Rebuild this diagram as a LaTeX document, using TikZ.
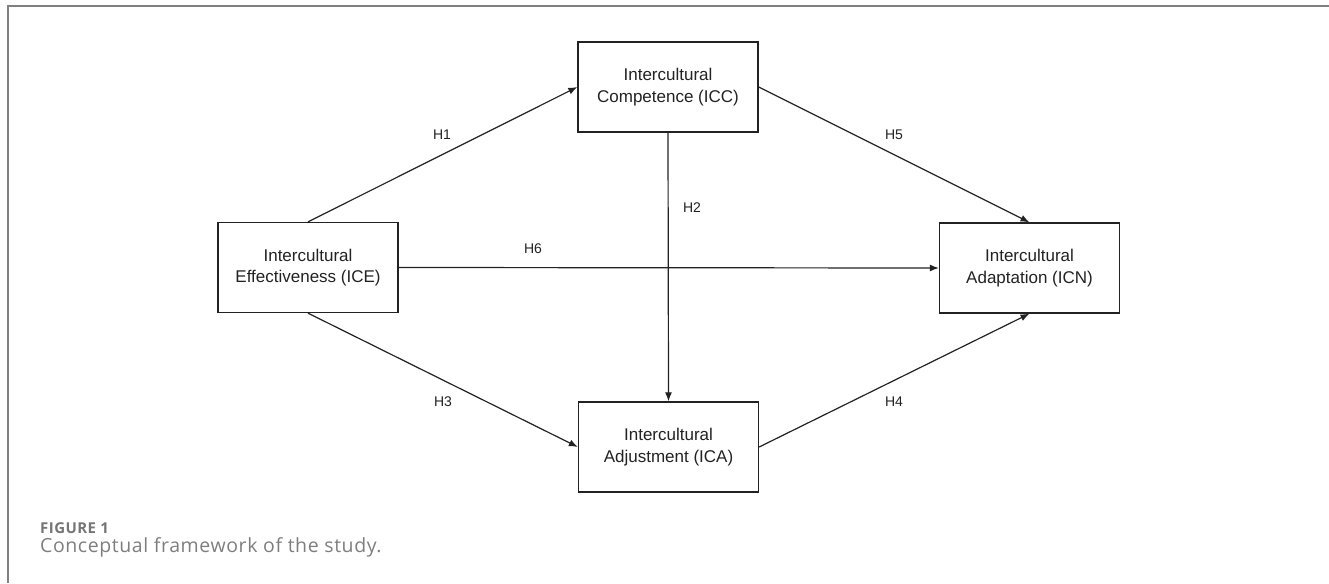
\documentclass[tikz,border=0pt]{standalone}
\usepackage{fontspec}
\setmainfont{Liberation Sans}
\newfontfamily\capfontwide[LetterSpace=3]{Open Sans}
\newfontfamily\figfontwide[LetterSpace=3]{Open Sans}
\usetikzlibrary{arrows.meta}
\definecolor{framegray}{HTML}{808080}
\definecolor{capgray}{HTML}{757575}
\definecolor{capgraylight}{HTML}{7E7E7E}
\definecolor{inkdark}{HTML}{222222}
\begin{document}
\begin{tikzpicture}[x=1pt,y=-1pt,
  box/.style={draw=inkdark, line width=1.3pt, minimum width=180pt, minimum height=90pt,
    align=center, inner sep=0pt, text=inkdark, font=\fontsize{17}{21.7}\selectfont},
  conn/.style={draw=inkdark, line width=1.2pt, -{Latex[length=9pt,width=7pt]}},
  hlab/.style={font=\fontsize{14}{16}\selectfont, text=inkdark, inner sep=0pt}]
\useasboundingbox (0,0) rectangle (1329,583);
\draw[framegray, line width=1.5pt] (8,583) -- (8,6) -- (1329,6);

\node[box] (ice) at (308,267.5) {Intercultural\\Effectiveness (ICE)};
\node[box] (icc) at (668,87) {Intercultural\\Competence (ICC)};
\node[box] (icn) at (1029.5,268) {Intercultural\\Adaptation (ICN)};
\node[box] (ica) at (668.5,447) {Intercultural\\Adjustment (ICA)};

\draw[conn] (ice.north) -- (icc.west);
\draw[conn] (ice.east) -- (icn.west);
\draw[conn] (ice.south) -- (ica.west);
\draw[conn] (icc.south) -- (ica.north);
\draw[conn] (icc.east) -- (icn.north);
\draw[conn] (ica.east) -- (icn.south);

\node[hlab] (h1) at (442,135) {H1};
\node[hlab] (h5) at (894,135) {H5};
\node[hlab] (h2) at (692,208) {H2};
\node[hlab] (h6) at (533,249) {H6};
\node[hlab] (h3) at (443,402) {H3};
\node[hlab] (h4) at (894,402) {H4};

\node[anchor=base west, inner sep=0pt, text=capgray, font=\figfontwide\bfseries\fontsize{15}{16}\selectfont] (fig) at (40,533) {FIGURE 1};
\node[anchor=base west, inner sep=0pt, text=capgraylight, font=\capfontwide\fontsize{19.5}{20}\selectfont] (cap) at (40,552) {Conceptual framework of the study.};
\end{tikzpicture}
\end{document}
